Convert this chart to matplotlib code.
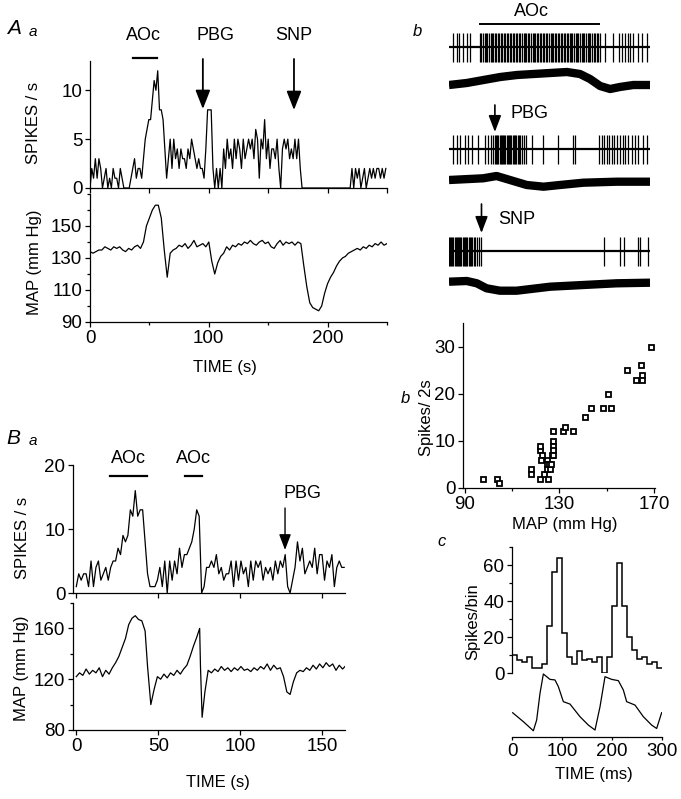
import numpy as np
import matplotlib
matplotlib.use('Agg')
import matplotlib.pyplot as plt

plt.rcParams['font.family'] = ['Liberation Sans', 'DejaVu Sans']
plt.rcParams['font.size'] = 12
plt.rcParams['axes.linewidth'] = 0.9
plt.rcParams['xtick.major.width'] = 0.9
plt.rcParams['ytick.major.width'] = 0.9
plt.rcParams['xtick.minor.width'] = 0.9
plt.rcParams['ytick.minor.width'] = 0.9
plt.rcParams['xtick.major.size'] = 3.5
plt.rcParams['ytick.major.size'] = 3.5
plt.rcParams['xtick.minor.size'] = 2.5
plt.rcParams['ytick.minor.size'] = 2.5

# ---------------- DATA ----------------
# Panel A a : spikes/s, 1.5 s bins
aa_bin = 1.5
aa_spikes = [0, 2, 1, 3, 1, 3, 2, 0, 1, 2, 0, 1, 0, 2, 1, 1, 0, 2, 1, 0, 0,
             0, 0, 1, 2, 3, 1, 2,
             2, 1, 3, 5, 6, 7, 7, 9, 11, 10, 12, 8, 8, 7, 4, 1,
             3, 5, 2, 5, 3, 4, 2, 4, 3, 3, 2, 4, 3, 5, 4, 3, 2, 3, 2,
             2, 1, 4, 8, 8, 8, 2, 0, 2, 0, 2, 0,
             4, 2, 5, 3, 4, 2, 5, 3, 5, 4, 2, 5, 3, 4, 5, 4, 5, 3, 6, 5, 1, 5, 4, 7, 3, 5, 2, 4,
             4, 3, 5, 2, 0, 4, 5, 4, 5, 3, 4, 3, 5, 3, 5, 2, 0,
             0, 0, 0, 0, 0, 0, 0, 0, 0, 0, 0, 0, 0, 0, 0, 0, 0, 0, 0, 0, 0, 0, 0, 0, 0, 0, 0,
             2, 0, 2, 1, 2, 0, 1, 2, 0, 1, 2, 1, 2, 1, 2, 2, 1, 2, 1, 2]
# Panel A a : MAP (mm Hg), 2.5 s steps
aa_map_step = 2.5
aa_map = [134, 133, 134, 135, 135, 137, 136, 135, 137, 136,
          137, 135, 134, 136, 135, 137, 138, 136, 140, 150,
          155, 160, 163, 163, 155, 135, 118, 133, 135, 136,
          138, 137, 139, 136, 138, 141, 137, 138, 139, 137,
          140, 128, 120, 127, 131, 133, 137, 135, 138, 137,
          139, 138, 140, 139, 141, 139, 138, 140, 141, 139,
          140, 137, 136, 139, 141, 138, 140, 139, 140, 138,
          140, 139, 125, 112, 102, 99, 98, 97, 100, 108,
          114, 118, 121, 125, 128, 130, 131, 133, 134, 135,
          136, 135, 137, 136, 138, 137, 139, 138, 140, 138, 139]
aa_aoc = (36.2, 56.4)
aa_pbg_t = 95.0
aa_snp_t = 171.7

# Panel A b : raw recordings (time in s)
b_spk1 = [1.3, 2.3, 3.1, 4.1, 5.3, 6.4,
          9.3, 9.7, 10.0, 10.6, 11.0, 11.3, 11.9, 12.4, 12.7, 13.2, 13.8, 14.1, 14.5, 15.0,
          15.6, 15.9, 16.4, 16.8, 17.3, 17.7, 18.1, 18.6, 19.0, 19.5, 20.1, 20.4, 20.9, 21.3,
          21.8, 22.3, 22.6, 23.1, 23.6, 24.0, 24.4, 25.0, 25.3, 25.8, 26.2, 26.7, 27.2, 27.5,
          28.0, 28.5, 28.9, 29.3, 29.8, 30.3, 30.6, 31.1, 31.6, 32.0, 32.4, 32.9, 33.4, 33.7,
          34.2, 34.7, 35.1, 35.5, 36.0, 36.5, 36.8, 37.3, 37.8, 38.2, 38.6, 39.1, 39.6, 40.0,
          40.4, 40.9, 41.4, 41.8, 42.2, 42.7, 43.2, 43.6, 44.1, 44.6, 45.0,
          46.6, 49.1, 50.6, 51.6, 52.5, 53.5, 54.0, 55.0, 56.5, 57.5, 59.0]
b_spk2 = [1.3, 2.3, 3.3, 4.8, 5.8, 6.8, 8.8, 10.7, 11.7, 12.4, 13.2,
          13.7, 14.0, 14.4, 14.7, 15.1, 15.4, 15.8, 16.1, 16.5, 16.8, 17.2, 17.5, 17.9, 18.3,
          18.6, 19.0, 19.4, 19.7, 20.1, 20.5, 20.9, 21.3, 21.8, 22.4, 23.1,
          24.7, 28.2, 32.6, 37.1, 37.6, 44.8, 45.6, 46.3, 47.1, 47.9, 48.6, 49.3, 50.1, 51.1,
          51.9, 52.5, 53.5, 54.5, 55.5, 56.5, 57.8, 59.0]
b_spk3 = [0.1, 0.4, 0.7, 1.0, 1.3, 1.7, 2.0, 2.3, 2.7, 3.0, 3.4, 3.7, 4.1, 4.4, 4.8, 5.2,
          5.5, 5.9, 6.3, 6.6, 7.0, 7.5, 7.9, 8.4, 8.9, 9.6,
          46.3, 51.1, 52.3, 56.3, 57.0, 59.5]
b_p1_t = [0, 5.3, 10.3, 15.3, 20.3, 25.2, 30.2, 35.2, 39.1, 42.1, 45.1, 48.1, 51.0, 55.0, 60.0]
b_p1 = [120, 122, 125, 128, 130, 131, 132, 133, 131, 126, 119, 116, 118, 120, 120]
b_p2_t = [0, 10.2, 14.2, 18.2, 23.2, 28.2, 33.1, 40.1, 50.0, 60.0]
b_p2 = [120, 121.7, 124, 120, 115, 113.3, 115, 117.3, 118.3, 118.3]
b_p3_t = [0, 5.3, 8.3, 11.2, 15.2, 20.2, 25.2, 30.2, 40.1, 50.0, 60.0]
b_p3 = [118.3, 119, 116.7, 111.7, 109.3, 109.3, 111.3, 113.3, 115, 116.7, 117.3]
b_aoc = (9.2, 44.9)
b_pbg_t = 13.7
b_snp_t = 9.7

# Panel B b : scatter
sc_map = [97.5, 103.4, 104.4, 117.9, 118.0, 122.0, 121.7, 122.0, 122.7, 122.3, 123.4, 124.6,
          124.6, 124.8, 125.3, 125.6, 126.0, 126.3, 126.7, 127.1, 127.4, 127.1, 127.4, 127.1,
          131.6, 132.6, 135.8, 140.8, 143.3, 148.5, 150.7, 151.8, 158.7, 162.4, 164.4, 165.0,
          165.0, 168.6]
sc_spk = [2, 2, 1, 4, 3, 2, 8, 9, 7, 6, 3, 6, 5, 4, 2, 5, 4, 5, 7, 10, 9, 8, 7, 12,
          12, 13, 12, 15, 17, 17, 20, 17, 25, 23, 26, 24, 23, 30]

# Panel B a : spikes/s, 1.5 s bins
ba_bin = 1.5
ba_spikes = [1, 3, 2, 3, 3, 1, 5, 1, 4, 5, 2, 3, 4, 2, 4, 5, 5, 7, 6, 9, 8, 9, 13, 12, 16,
             12, 13, 13, 8, 3, 1, 1, 1, 2, 4, 1, 5, 0, 5, 2, 5, 3, 7, 4, 6, 6, 7, 8, 10, 13,
             12, 0, 1, 4, 4, 5, 4, 6, 3, 4, 2, 3, 3, 5, 1, 5, 2, 5, 3, 4, 1, 5, 2, 5, 4, 5,
             2, 4, 3, 4, 2, 5, 3, 5, 4, 6, 1, 0, 2, 4, 8, 5, 7, 3, 4, 5, 4, 7, 3, 6, 6, 2,
             5, 4, 6, 1, 4, 5, 4, 4]
ba_map_t = [0, 2, 4, 6, 8, 10, 12, 14, 16, 18, 20, 22, 24, 26, 28, 30, 32, 34, 36, 38, 40,
            42, 43.5, 45.5, 47.5, 49.5, 51.5, 53.5, 55.5, 57.5, 59.5, 61.5, 63.5, 65.5, 67.5,
            69.5, 71.5, 73.5, 75.3, 75.8, 76.8, 78.5, 80.5, 82.5, 84.5, 86.5, 88.5, 90.5, 92.5,
            94.5, 96.5, 98.5, 100.5, 102.5, 104.5, 106.5, 108.5, 110.5, 112.5, 114.5, 116.5,
            118.5, 120.5, 122.5, 124.5, 126.5, 128.5, 130.5, 132.5, 134.5, 136.5, 138.5, 140.5,
            142.5, 144.5, 146.5, 148.5, 150.5, 152.5, 154.5, 156.5, 158.5, 160.5, 162.5, 164]
ba_map = [122, 125, 123, 128, 124, 127, 125, 129, 122, 127, 124, 129, 133, 138, 145, 152,
          163, 168, 170, 167, 166, 158, 130, 100, 112, 122, 120, 124, 121, 125, 123, 127, 124,
          128, 131, 138, 146, 153, 160, 130, 90, 110, 127, 125, 128, 126, 130, 127, 129, 126,
          129, 127, 130, 127, 128, 126, 129, 127, 130, 128, 132, 127, 131, 128, 129, 122, 110,
          108, 118, 125, 127, 126, 129, 127, 131, 128, 132, 129, 133, 130, 132, 127, 131, 128, 130]
ba_aoc1 = (20.7, 43.3)
ba_aoc2 = (66.5, 76.8)
ba_pbg_t = 127.4

# Panel B c : histogram (10 ms bins) and pressure pulse
c_edges_ms = np.arange(0, 310, 10)
c_counts = [10, 7, 6, 9, 3, 3, 5, 26, 56, 64, 22, 9, 5, 12, 7, 8, 6, 9, 0, 9,
            37, 61, 37, 20, 13, 8, 9, 5, 6, 3]
c_map_t = [1.3, 22.7, 42.7, 49.3, 56, 62.7, 76, 86, 92.7, 102.7, 116, 136, 152.7, 166,
           176, 186, 199.3, 212.7, 222.7, 229.3, 246, 262.7, 279.3, 289.3, 299.3]
c_map = [122.7, 116.4, 110, 117.5, 136.4, 150, 146.2, 145.8, 141.1, 130.5, 128.8, 119.9,
         114, 110.5, 126.9, 148.1, 146.2, 145.3, 138.7, 130.5, 128.1, 119.9, 114, 111.6, 122.7]

# ---------------- FIGURE ----------------
W, H = 681, 799
fig = plt.figure(figsize=(W / 100, H / 100), dpi=100)
TICK_FS = 13.5


def add_ax(x0, y0, x1, y1):
    return fig.add_axes([x0 / W, 1 - y1 / H, (x1 - x0) / W, (y1 - y0) / H])


def ftext(x, y, s, **kw):
    kw.setdefault('ha', 'center')
    kw.setdefault('va', 'center')
    fig.text(x / W, 1 - y / H, s, **kw)


def style(ax):
    ax.spines['top'].set_visible(False)
    ax.spines['right'].set_visible(False)
    ax.tick_params(labelsize=TICK_FS, pad=2)
    ax.patch.set_alpha(0)


def arrow(ax, x, y0, y1, tr, hl=1.15, hw=0.45, lw=1.3):
    ax.annotate('', xy=(x, y1), xytext=(x, y0), xycoords=tr, textcoords=tr,
                arrowprops=dict(arrowstyle=f'-|>,head_length={hl},head_width={hw}',
                                lw=lw, color='black', shrinkA=0, shrinkB=0,
                                mutation_scale=10),
                annotation_clip=False)


LW = 0.9

# ----- A a : spikes -----
axs = add_ax(90, 61, 387, 188)
style(axs)
t_aa = np.arange(len(aa_spikes)) * aa_bin
axs.plot(t_aa, aa_spikes, color='black', lw=LW)
axs.set_xlim(0, 250)
axs.set_ylim(0, 13)
axs.set_yticks([0, 5, 10])
axs.set_xticks([0, 50, 100, 150, 200, 250])
axs.set_xticklabels([])
tr = axs.get_xaxis_transform()
axs.plot(aa_aoc, [1.024, 1.024], color='black', lw=1.6, transform=tr, clip_on=False)
axs.text(np.mean(aa_aoc) - 1, 1.197, 'AOc', transform=tr, ha='center', va='center', fontsize=13)
arrow(axs, aa_pbg_t, 1.016, 0.622, tr)
axs.text(aa_pbg_t + 11, 1.197, 'PBG', transform=tr, ha='center', va='center', fontsize=13)
arrow(axs, aa_snp_t, 1.016, 0.614, tr)
axs.text(aa_snp_t - 0.5, 1.197, 'SNP', transform=tr, ha='center', va='center', fontsize=13)

# ----- A a : MAP -----
axm = add_ax(90, 194, 387, 322)
style(axm)
t_aam = np.arange(len(aa_map)) * aa_map_step
axm.plot(t_aam, aa_map, color='black', lw=LW)
axm.set_xlim(0, 250)
axm.set_ylim(90, 170)
axm.set_yticks([90, 110, 130, 150])
axm.set_yticks([100, 120, 140, 160, 170], minor=True)
axm.set_xticks([0, 100, 200])
axm.set_xticks([50, 150, 250], minor=True)

ftext(14, 29, 'A', fontsize=15, style='italic')
ftext(33, 32, 'a', fontsize=11, style='italic')
ftext(34, 123, 'SPIKES / s', rotation=90, fontsize=12)
ftext(35, 262, 'MAP (mm Hg)', rotation=90, fontsize=12)
ftext(225, 368, 'TIME (s)', fontsize=12)

# ----- A b : raw traces -----
axb = add_ax(449, 0, 650, 300)
axb.set_xlim(0, 60)
axb.set_ylim(300, 0)
axb.axis('off')
for spk, base in ((b_spk1, 47), (b_spk2, 149), (b_spk3, 251)):
    axb.plot([0, 60], [base, base], color='black', lw=1.6)
    axb.vlines(spk, base - 14, base + 15, color='black', lw=0.9)
for pt, pv, base in ((b_p1_t, b_p1, 205), (b_p2_t, b_p2, 300), (b_p3_t, b_p3, 400)):
    axb.plot(pt, base - np.array(pv), color='black', lw=6.0, solid_capstyle='butt')
axb.plot(b_aoc, [24.3, 24.3], color='black', lw=1.4, clip_on=False)
axb.text(24.5, 11, 'AOc', ha='center', va='center', fontsize=13)
arrow(axb, b_pbg_t, 105, 132, 'data', hl=1.0, hw=0.38, lw=1.2)
axb.text(23.9, 114, 'PBG', ha='center', va='center', fontsize=13)
arrow(axb, b_snp_t, 204, 233, 'data', hl=1.0, hw=0.38, lw=1.2)
axb.text(20.3, 220, 'SNP', ha='center', va='center', fontsize=13)
ftext(417, 31, 'b', fontsize=12, style='italic')

# ----- B b : scatter -----
axsc = add_ax(463, 323, 655, 488)
style(axsc)
axsc.plot(sc_map, sc_spk, ls='none', marker='s', ms=3.6, mfc='white', mec='black', mew=1.3)
axsc.set_xlim(89.2, 170.5)
axsc.set_ylim(0, 35)
axsc.set_xticks([90, 130, 170])
axsc.set_xticks([110, 150], minor=True)
axsc.set_yticks([0, 10, 20, 30])
ftext(426, 418, 'Spikes/ 2s', rotation=90, fontsize=12)
ftext(565, 524, 'MAP (mm Hg)', fontsize=12)
ftext(405, 398, 'b', fontsize=12, style='italic')

# ----- B a : spikes -----
abs_ = add_ax(73, 465, 345, 593)
style(abs_)
t_ba = np.arange(len(ba_spikes)) * ba_bin
abs_.plot(t_ba, ba_spikes, color='black', lw=LW)
abs_.set_xlim(-2, 164)
abs_.set_ylim(0, 20)
abs_.set_yticks([0, 10, 20])
abs_.set_xticks([0, 50, 100, 150])
abs_.set_xticklabels([])
tr = abs_.get_xaxis_transform()
abs_.plot(ba_aoc1, [0.914, 0.914], color='black', lw=1.6, transform=tr, clip_on=False)
abs_.plot(ba_aoc2, [0.914, 0.914], color='black', lw=1.6, transform=tr, clip_on=False)
abs_.text(31.7, 1.047, 'AOc', transform=tr, ha='center', va='center', fontsize=13)
abs_.text(71.3, 1.047, 'AOc', transform=tr, ha='center', va='center', fontsize=13)
arrow(abs_, ba_pbg_t, 0.664, 0.336, tr, hl=0.95, hw=0.36, lw=1.0)
abs_.text(137.8, 0.781, 'PBG', transform=tr, ha='center', va='center', fontsize=13)

# ----- B a : MAP -----
abm = add_ax(73, 603, 345, 730)
style(abm)
abm.plot(ba_map_t, ba_map, color='black', lw=LW)
abm.set_xlim(-2, 164)
abm.set_ylim(80, 180)
abm.set_yticks([80, 120, 160])
abm.set_yticks([100, 140, 180], minor=True)
abm.set_xticks([0, 50, 100, 150])

ftext(13, 438, 'B', fontsize=15, style='italic')
ftext(33, 441, 'a', fontsize=11, style='italic')
ftext(23, 538, 'SPIKES / s', rotation=90, fontsize=12)
ftext(22, 668, 'MAP (mm Hg)', rotation=90, fontsize=12)
ftext(218, 783, 'TIME (s)', fontsize=12)

# ----- B c : histogram -----
ach = add_ax(512, 547, 662, 673)
style(ach)
ach.spines['bottom'].set_visible(False)
ach.stairs(c_counts, c_edges_ms, baseline=None, color='black', lw=1.1)
ach.set_xlim(0, 300)
ach.set_ylim(0, 70)
ach.set_xticks([])
ach.set_yticks([0, 20, 40, 60])
ach.set_yticks([10, 30, 50, 70], minor=True)

acp = add_ax(512, 672, 662, 737)
style(acp)
acp.spines['left'].set_visible(False)
acp.plot(c_map_t, c_map, color='black', lw=LW)
acp.set_xlim(0, 300)
acp.set_ylim(105.6, 151.4)
acp.set_yticks([])
acp.set_xticks([0, 100, 200, 300])
acp.tick_params(axis='x', length=2)

ftext(442, 541, 'c', fontsize=12, style='italic')
ftext(473, 622, 'Spikes/bin', rotation=90, fontsize=12)
ftext(594, 775, 'TIME (ms)', fontsize=12)

fig.savefig('out.png', dpi=100)
